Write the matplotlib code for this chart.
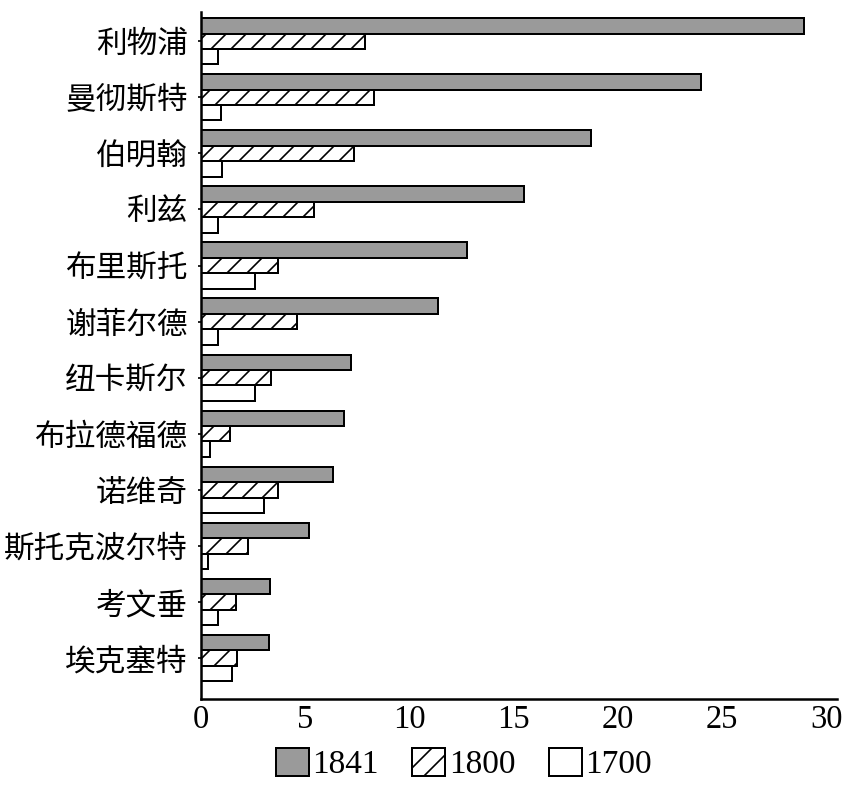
import matplotlib
matplotlib.use("Agg")
import matplotlib.pyplot as plt
import numpy as np

cities = ["利物浦", "曼彻斯特", "伯明翰", "利兹", "布里斯托", "谢菲尔德",
          "纽卡斯尔", "布拉德福德", "诺维奇", "斯托克波尔特", "考文垂", "埃克塞特"]
v1841 = [28.9, 24.0, 18.7, 15.5, 12.75, 11.35, 7.2, 6.85, 6.35, 5.2, 3.3, 3.25]
v1800 = [7.85, 8.3, 7.35, 5.4, 3.7, 4.6, 3.35, 1.4, 3.7, 2.25, 1.7, 1.75]
v1700 = [0.8, 0.95, 1.0, 0.8, 2.6, 0.8, 2.6, 0.45, 3.0, 0.35, 0.8, 1.5]
series_labels = ["1841", "1800", "1700"]
xticks = [0, 5, 10, 15, 20, 25, 30]

plt.rcParams['hatch.linewidth'] = 1.0
fig = plt.figure(figsize=(860/120, 788/120), dpi=120)
ax = fig.add_axes([0.2337, 0.1129, 0.7395, 0.8718])

y = np.arange(len(cities))
h = 0.275
edge = dict(edgecolor="black", linewidth=1.2)
b1 = ax.barh(y - h, v1841, height=h, color="#9a9a9a", label=series_labels[0], **edge)
b2 = ax.barh(y, v1800, height=h, color="white", hatch="//", label=series_labels[1], **edge)
b3 = ax.barh(y + h, v1700, height=h, color="white", label=series_labels[2], **edge)

ax.set_xlim(0, 30.5)
ax.set_ylim(len(cities) - 1 + 0.73, -0.52)
ax.set_yticks(y)
ax.set_yticklabels(cities, fontfamily=["Noto Sans CJK SC", "DejaVu Sans"],
                   fontsize=18.4, fontweight="medium")
ax.set_xticks(xticks)
ax.set_xticklabels([str(t) for t in xticks], fontfamily="Liberation Serif", fontsize=19.5)
ax.tick_params(axis="y", length=2, width=1.0, pad=6, direction="out")
ax.tick_params(axis="x", length=0, pad=3)

for s in ["top", "right"]:
    ax.spines[s].set_visible(False)
for s in ["left", "bottom"]:
    ax.spines[s].set_linewidth(1.5)
    ax.spines[s].set_color("black")

leg = fig.legend(handles=[b1, b2, b3], labels=series_labels, loc="center",
                 bbox_to_anchor=(464/860, 1 - 764/788), ncol=3, frameon=False,
                 prop={"family": "Liberation Serif", "size": 20},
                 handlelength=0.98, handleheight=0.9, handletextpad=0.12,
                 columnspacing=1.0, borderpad=0, borderaxespad=0)

fig.savefig("out.png", dpi=120)
